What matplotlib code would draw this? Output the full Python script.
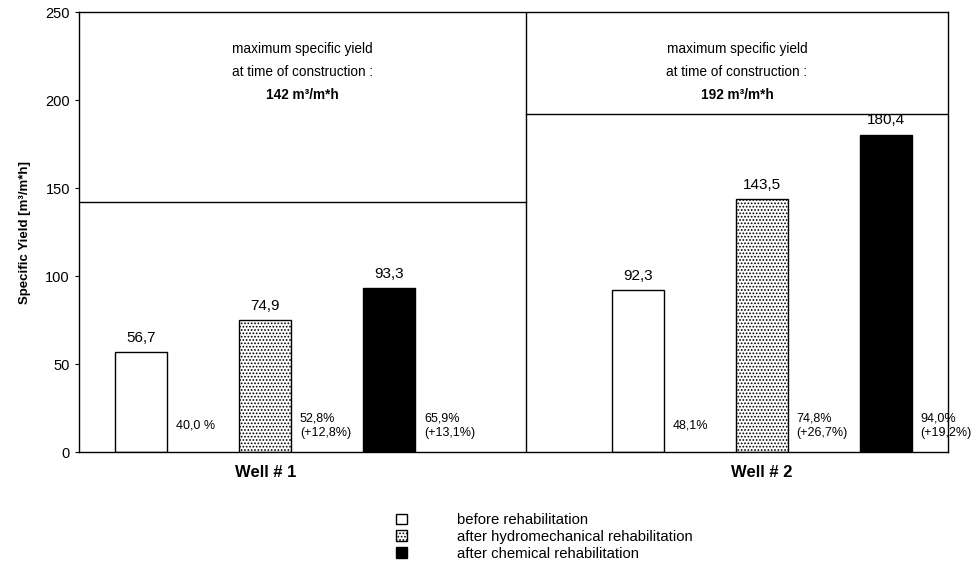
import matplotlib.pyplot as plt

plt.rcParams['font.family'] = ['Liberation Sans', 'DejaVu Sans']
plt.rcParams['hatch.linewidth'] = 0.8

# dados
wells = ['Well # 1', 'Well # 2']
stages = ['before rehabilitation', 'after hydromechanical rehabilitation',
          'after chemical rehabilitation']
yield_w1 = [56.7, 74.9, 93.3]
yield_w2 = [92.3, 143.5, 180.4]
pct_w1 = ['40,0 %', '52,8%\n(+12,8%)', '65,9%\n(+13,1%)']
pct_w2 = ['48,1%', '74,8%\n(+26,7%)', '94,0%\n(+19,2%)']
max_yield = [142, 192]

pos_w1 = [0.5, 1.5, 2.5]
pos_w2 = [4.5, 5.5, 6.5]
divider = 3.6
xmax = 7.0
width = 0.42

fig = plt.figure(figsize=(9.78, 5.69), dpi=100)
ax = fig.add_axes([0.0808, 0.2056, 0.8885, 0.7733])

estilos = [dict(facecolor='white', edgecolor='black', hatch=None),
           dict(facecolor='white', edgecolor='black', hatch='.....'),
           dict(facecolor='black', edgecolor='black', hatch=None)]

handles = []
for pos, vals, pcts in [(pos_w1, yield_w1, pct_w1), (pos_w2, yield_w2, pct_w2)]:
    for i in range(3):
        b = ax.bar(pos[i], vals[i], width=width, linewidth=1.0, **estilos[i])
        if len(handles) < 3:
            handles.append(b)
        ax.text(pos[i], vals[i] + 4, f'{vals[i]:.1f}'.replace('.', ','),
                ha='center', va='bottom', fontsize=11)
        ax.text(pos[i] + width / 2 + 0.07, 15, pcts[i], ha='left', va='center',
                fontsize=9, linespacing=1.3)

# linhas de máximo
ax.plot([0, divider], [max_yield[0], max_yield[0]], color='black', lw=1)
ax.plot([divider, xmax], [max_yield[1], max_yield[1]], color='black', lw=1)
ax.axvline(divider, color='black', lw=1)

for cx, m in [(divider / 2, max_yield[0]), ((divider + xmax) / 2, max_yield[1])]:
    ax.text(cx, 229, 'maximum specific yield', ha='center', va='center', fontsize=9.8)
    ax.text(cx, 216, 'at time of construction :', ha='center', va='center', fontsize=9.8)
    ax.text(cx, 203, f'{m} m³/m*h', ha='center', va='center', fontsize=9.8,
            fontweight='bold')

ax.set_xlim(0, xmax)
ax.set_ylim(0, 250)
ax.set_yticks([0, 50, 100, 150, 200, 250])
ax.tick_params(axis='y', labelsize=10.5, length=3, direction='out')
ax.set_xticks([1.5, 5.5])
ax.set_xticklabels(wells, fontsize=12, fontweight='bold')
ax.tick_params(axis='x', length=0, pad=9)
ax.set_ylabel('Specific Yield [m³/m*h]', fontsize=9.5, fontweight='bold', labelpad=10)
for s in ax.spines.values():
    s.set_linewidth(1.0)

fig.legend(handles, stages, loc='upper left', bbox_to_anchor=(0.399, 0.109),
           frameon=False, fontsize=10.7, handlelength=0.7, handleheight=0.7,
           handletextpad=3.4, labelspacing=0.2, borderaxespad=0)

fig.savefig('out.png', dpi=100)
